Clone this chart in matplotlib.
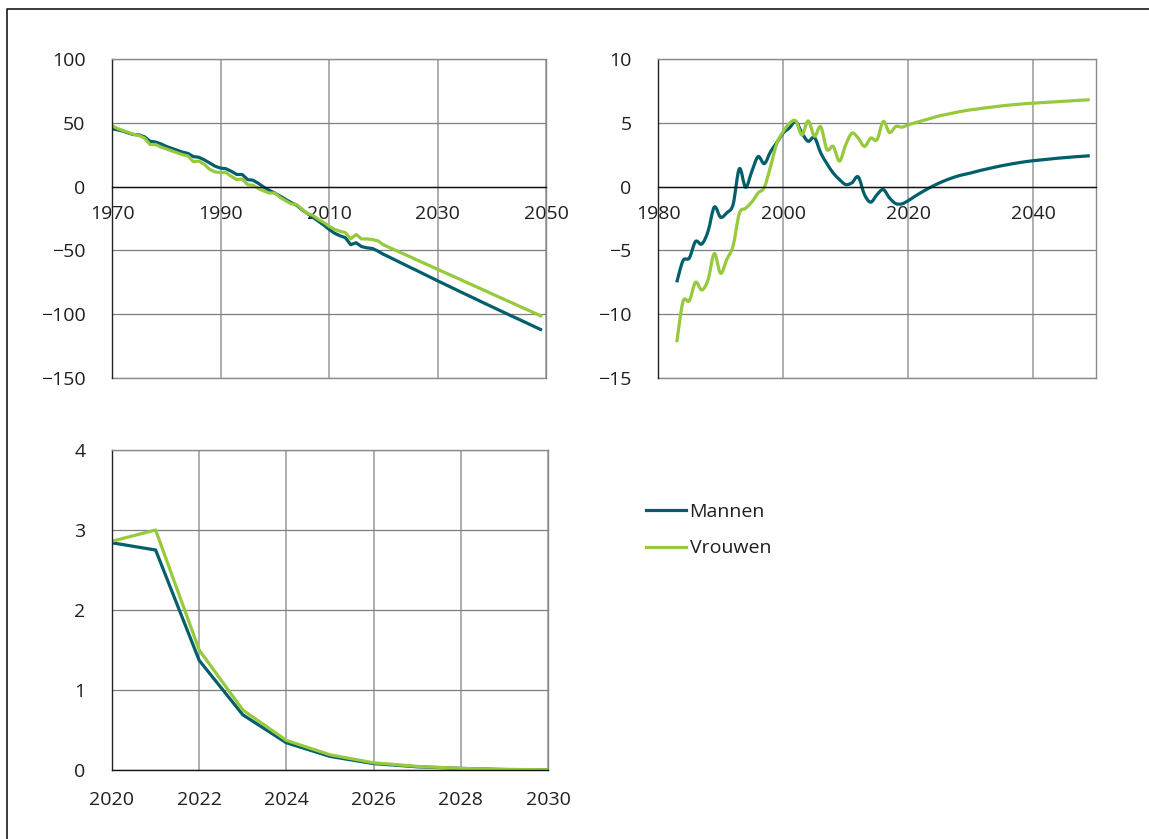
import numpy as np
import matplotlib
matplotlib.use("Agg")
import matplotlib.pyplot as plt
from matplotlib.path import Path
from matplotlib.patches import PathPatch
from matplotlib.lines import Line2D

plt.rcParams['font.family'] = ['Open Sans', 'DejaVu Sans']
plt.rcParams['font.size'] = 14

# ---------------- data ----------------
years_a = list(range(1970, 2050))
mannen_a = [45.3, 44.5, 43.5, 42.0, 40.8, 40.5, 39.0, 35.5, 35.0, 33.5,
            31.5, 30.0, 28.5, 27.0, 26.0, 23.5, 23.0, 21.0, 18.5, 16.0,
            14.5, 14.0, 12.0, 9.5, 9.5, 5.5, 5.0, 2.5, -0.5, -3.0,
            -5.0, -7.5, -10.0, -12.5, -14.5, -18.0, -21.0, -24.0, -27.0, -30.0,
            -33.5, -36.5, -38.5, -40.0, -45.5, -44.0, -47.0, -48.0, -48.5, -50.5,
            -53.0, -55.0, -57.1, -59.2, -61.3, -63.4, -65.4, -67.5, -69.6, -71.7,
            -73.8, -75.8, -77.9, -79.9, -82.0, -84.0, -86.0, -88.0, -90.1, -92.1,
            -94.1, -96.1, -98.1, -100.1, -102.1, -104.0, -106.0, -108.0, -110.0, -112.0]
vrouwen_a = [47.9, 45.5, 44.0, 42.5, 41.0, 40.0, 38.0, 33.0, 33.0, 31.0,
             29.5, 28.0, 26.5, 25.0, 24.0, 19.5, 20.0, 17.5, 13.5, 11.5,
             11.0, 11.0, 8.0, 5.5, 6.0, 1.5, 1.0, -1.5, -3.5, -5.0,
             -5.0, -8.5, -11.0, -13.5, -14.0, -17.5, -21.0, -22.5, -25.5, -28.0,
             -31.0, -33.5, -35.0, -36.0, -41.0, -37.5, -41.0, -41.0, -41.5, -42.5,
             -45.5, -47.5, -49.4, -51.3, -53.2, -55.1, -57.1, -59.0, -60.9, -62.8,
             -64.8, -66.7, -68.6, -70.5, -72.4, -74.4, -76.3, -78.2, -80.1, -82.0,
             -84.0, -85.9, -87.8, -89.7, -91.6, -93.6, -95.5, -97.4, -99.3, -101.3]

years_b = list(range(1983, 2050))
mannen_b = [-7.5, -5.8, -5.6, -4.3, -4.5, -3.5, -1.6, -2.4, -2.05, -1.4,
            1.4, -0.05, 1.2, 2.35, 1.8, 2.75, 3.45, 4.2, 4.6, 5.1,
            4.2, 3.55, 3.85, 2.65, 1.8, 1.07, 0.55, 0.16, 0.3, 0.76,
            -0.63, -1.22, -0.63, -0.23, -0.89, -1.33, -1.35, -1.1, -0.78, -0.48,
            -0.2, 0.06, 0.29, 0.5, 0.68, 0.84, 0.96, 1.07, 1.2, 1.32,
            1.43, 1.54, 1.64, 1.73, 1.82, 1.9, 1.97, 2.03, 2.08, 2.13,
            2.18, 2.23, 2.27, 2.31, 2.35, 2.38, 2.42]
vrouwen_b = [-12.2, -9.0, -8.95, -7.5, -8.1, -7.3, -5.25, -6.8, -5.7, -4.65,
             -2.1, -1.7, -1.2, -0.5, -0.05, 1.6, 3.4, 4.3, 4.95, 5.15,
             4.05, 5.15, 3.95, 4.7, 2.9, 3.15, 2.0, 3.28, 4.19, 3.8,
             3.15, 3.8, 3.67, 5.1, 4.24, 4.71, 4.66, 4.84, 4.99, 5.13,
             5.27, 5.41, 5.55, 5.65, 5.75, 5.85, 5.94, 6.02, 6.08, 6.15,
             6.21, 6.27, 6.33, 6.38, 6.43, 6.47, 6.51, 6.54, 6.57, 6.6,
             6.63, 6.66, 6.69, 6.72, 6.75, 6.78, 6.8]

years_c = list(range(2020, 2031))
mannen_c = [2.84, 2.75, 1.37, 0.69, 0.34, 0.17, 0.08, 0.04, 0.02, 0.006, 0.002]
vrouwen_c = [2.86, 3.0, 1.5, 0.75, 0.37, 0.19, 0.09, 0.045, 0.02, 0.008, 0.003]

labels = ['Mannen', 'Vrouwen']
C_M = '#005f6b'
C_V = '#97c93c'
LW = 2.3

# ---------------- figure ----------------
W, H = 1149, 839
fig = plt.figure(figsize=(W / 100, H / 100), dpi=100)


def box(l, t, r, b):
    return [l / W, 1 - b / H, (r - l) / W, (b - t) / H]


def style(ax, xlim, ylim, xt, yt, xpad=13):
    ax.set_xlim(*xlim)
    ax.set_ylim(*ylim)
    ax.set_xticks(xt)
    ax.set_yticks(yt)
    ax.set_axisbelow(True)
    ax.grid(True, axis='y', color='#7f7f7f', lw=0.9)
    ax.grid(True, axis='x', color='#a8a8a8', lw=1.3)
    ax.tick_params(length=0, labelsize=14, colors='#1f1f1f')
    ax.tick_params(axis='y', pad=19)
    ax.tick_params(axis='x', pad=xpad)
    ax.spines['left'].set_color('#222222')
    ax.spines['left'].set_linewidth(1.0)
    ax.spines['bottom'].set_color('#111111')
    ax.spines['bottom'].set_linewidth(1.0)
    for s in ('top', 'right'):
        ax.spines[s].set_color('#8a8a8a')
        ax.spines[s].set_linewidth(1.0)


def smooth(ax, x, y, color):
    x = np.asarray(x, float)
    y = np.asarray(y, float)
    n = len(x)
    verts = [(x[0], y[0])]
    codes = [Path.MOVETO]
    for i in range(n - 1):
        p0 = i - 1 if i > 0 else i
        p3 = i + 2 if i + 2 < n else i + 1
        c1 = (x[i] + (x[i + 1] - x[p0]) / 6, y[i] + (y[i + 1] - y[p0]) / 6)
        c2 = (x[i + 1] - (x[p3] - x[i]) / 6, y[i + 1] - (y[p3] - y[i]) / 6)
        verts += [c1, c2, (x[i + 1], y[i + 1])]
        codes += [Path.CURVE4] * 3
    ax.add_patch(PathPatch(Path(verts, codes), fill=False, edgecolor=color,
                           lw=LW, capstyle='butt', joinstyle='round'))


def bottom_edge(ax):
    ax.axhline(ax.get_ylim()[0], color='#8a8a8a', lw=1.0, clip_on=False,
               zorder=0.5)


# top-left
ax1 = fig.add_axes(box(112, 59, 546, 378))
style(ax1, (1970, 2050), (-150, 100), [1970, 1990, 2010, 2030, 2050],
      [-150, -100, -50, 0, 50, 100])
ax1.spines['bottom'].set_position(('data', 0))
bottom_edge(ax1)
ax1.plot(years_a, mannen_a, color=C_M, lw=LW)
ax1.plot(years_a, vrouwen_a, color=C_V, lw=LW)

# top-right
ax2 = fig.add_axes(box(658, 59, 1096, 378))
style(ax2, (1980, 2050), (-15, 10), [1980, 2000, 2020, 2040],
      [-15, -10, -5, 0, 5, 10])
ax2.spines['bottom'].set_position(('data', 0))
bottom_edge(ax2)
smooth(ax2, years_b, mannen_b, C_M)
smooth(ax2, years_b, vrouwen_b, C_V)

# bottom
ax3 = fig.add_axes(box(112, 450, 548, 770))
style(ax3, (2020, 2030), (0, 4), list(range(2020, 2031, 2)), [0, 1, 2, 3, 4],
      xpad=15)
ax3.plot(years_c, mannen_c, color=C_M, lw=LW)
ax3.plot(years_c, vrouwen_c, color=C_V, lw=LW)

# legend
handles = [Line2D([], [], color=C_M, lw=LW), Line2D([], [], color=C_V, lw=LW)]
fig.legend(handles, labels, loc='upper left',
           bbox_to_anchor=(640 / W, 1 - 497 / H), frameon=False,
           fontsize=14, handlelength=2.05, handletextpad=0.2,
           labelspacing=0.95, borderaxespad=0, borderpad=0.3,
           labelcolor='#1f1f1f')

# outer frame (left and top edges)
x0 = 7 / W
y0 = 1 - 9 / H
fig.add_artist(Line2D([x0, x0, 1.0], [0.0, y0, y0], transform=fig.transFigure,
                      color='#1a1a1a', lw=1.2))

fig.savefig('out.png', dpi=100)
